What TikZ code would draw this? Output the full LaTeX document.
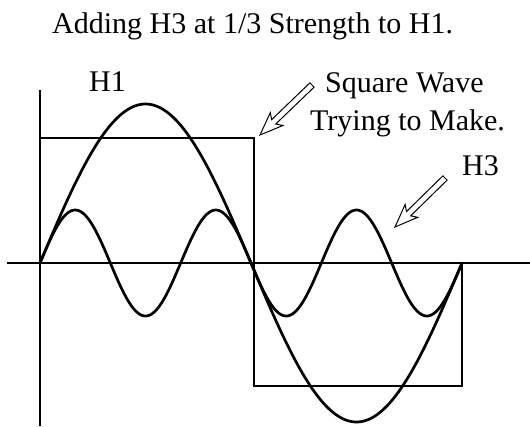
\documentclass[tikz,border=0pt]{standalone}
\usepackage{fontspec}
\setmainfont{Liberation Serif}
\usetikzlibrary{calc}
\tikzset{
  lbl/.style={anchor=base west, inner sep=0pt, font=\fontsize{30}{36}\selectfont},
  axisline/.style={line width=1.1pt},
  sqline/.style={line width=1.1pt, line join=miter},
  wave/.style={line width=2.7pt, line join=round, line cap=round},
  hollow/.style={line width=1pt, fill=white, line join=miter},
}
\newcommand\hollowarrow[2]{%
  \coordinate (hb) at ($(#2)!19pt!(#1)$);
  \coordinate (hk) at ($(#2)!23pt!(#1)$);
  \draw[hollow] ($(#1)!3pt!90:(#2)$) -- ($(hb)!3pt!90:(#2)$) -- ($(hk)!9pt!90:(#2)$)
    -- (#2) -- ($(hk)!9pt!-90:(#2)$) -- ($(hb)!3pt!-90:(#2)$) -- ($(#1)!3pt!-90:(#2)$) -- cycle;
}
\begin{document}
\begin{tikzpicture}[x=1pt,y=-1pt]
\useasboundingbox (0,0) rectangle (530,426);
% axes
\coordinate (xl) at (7,263);
\coordinate (xr) at (530,263);
\coordinate (yt) at (40,90);
\coordinate (yb) at (40,426);
\draw[axisline] (xl) -- (xr);
\draw[axisline] (yt) -- (yb);
% square wave
\coordinate (s0) at (40,138);
\coordinate (s1) at (254,138);
\coordinate (s2) at (254,386);
\coordinate (s3) at (462,386);
\coordinate (s4) at (462,263);
\draw[sqline] (s0) -- (s1) -- (s2) -- (s3) -- (s4);
% H1 and H3
\draw[wave] plot[domain=0:360, samples=241, smooth] ({40+1.172222*\x}, {263-159*sin(\x)});
\draw[wave] plot[domain=0:360, samples=241, smooth] ({40+1.172222*\x}, {263-53*sin(3*\x)});
% texts
\node[lbl] (title) at (52,33) {Adding H3 at 1/3 Strength to H1.};
\node[lbl] (h1) at (89,91) {H1};
\node[lbl] (sq1) at (325,92) {Square Wave};
\node[lbl] (sq2) at (310,130) {Trying to Make.};
\node[lbl] (h3) at (462,175) {H3};
% hollow arrows
\coordinate (a1t) at (312,85);
\coordinate (a1p) at (260,135);
\coordinate (a2t) at (445,178);
\coordinate (a2p) at (395,227);
\hollowarrow{a1t}{a1p}
\hollowarrow{a2t}{a2p}
\end{tikzpicture}
\end{document}
